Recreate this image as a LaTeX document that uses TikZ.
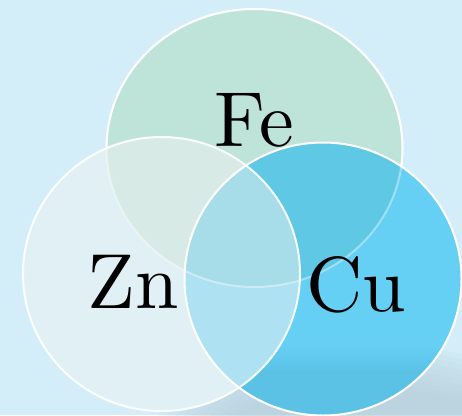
\documentclass[tikz,border=0pt]{standalone}
\definecolor{bgc}{HTML}{D3EEF9}
\definecolor{shc}{HTML}{B4CDD7}
\definecolor{fec}{HTML}{BEE3D9}
\definecolor{znc}{HTML}{E1F0F5}
\definecolor{cuc}{HTML}{66CFF4}
\definecolor{cudark}{HTML}{5BC2E6}
\definecolor{fezn}{HTML}{D8EAE5}
\definecolor{fecu}{HTML}{5EC8E5}
\definecolor{zncu}{HTML}{AEE1F2}
\definecolor{allc}{HTML}{A7DCE9}
\font\labfont=cmr10 at 78pt
\tikzset{
  lab/.style={anchor=base, inner sep=0pt, text=black, font=\labfont},
  rim/.style={draw=white, line width=2pt}
}
\begin{document}
\begin{tikzpicture}[x=1pt,y=-1pt]
\fill[bgc] (0,0) rectangle (462,415);
\useasboundingbox (0,0) rectangle (462,415);
% shadow
\begin{scope}
\clip (0,0) rectangle (462,415);
\foreach \i in {0,...,9}{
  \fill[shc, opacity=0.11] (365,432) ellipse [x radius={(210-8*\i)*1pt}, y radius={(88-5*\i)*1pt}];
}
\end{scope}
% Fe
\fill[fec] (254.5,148) ellipse [x radius=148pt, y radius=139pt];
\draw[rim] (254.5,148) ellipse [x radius=148pt, y radius=139pt];
% Zn and Cu
\fill[znc] (161.5,274) ellipse [x radius=138.5pt, y radius=137pt];
\fill[cuc] (323,279) ellipse [x radius=138.5pt, y radius=136.5pt];
\begin{scope}
\clip (323,279) ellipse [x radius=138.5pt, y radius=136.5pt];
\shade[top color=cuc, bottom color=cudark] (150,345) rectangle (470,372);
\fill[cudark] (150,372) rectangle (470,420);
\end{scope}
% Fe & Zn, Fe & Cu
\begin{scope}
\clip (254.5,148) ellipse [x radius=148pt, y radius=139pt];
\fill[fezn] (161.5,274) ellipse [x radius=138.5pt, y radius=137pt];
\fill[fecu] (323,279) ellipse [x radius=138.5pt, y radius=136.5pt];
\end{scope}
% Zn & Cu, and all three
\begin{scope}
\clip (161.5,274) ellipse [x radius=138.5pt, y radius=137pt];
\fill[zncu] (323,279) ellipse [x radius=138.5pt, y radius=136.5pt];
\begin{scope}
\clip (254.5,148) ellipse [x radius=148pt, y radius=139pt];
\fill[allc] (323,279) ellipse [x radius=138.5pt, y radius=136.5pt];
\end{scope}
\end{scope}
% rims
\draw[rim, draw opacity=0.4] (254.5,148) ellipse [x radius=148pt, y radius=139pt];
\draw[rim, draw opacity=0.9] (161.5,274) ellipse [x radius=138.5pt, y radius=137pt];
\draw[rim] (323,279) ellipse [x radius=138.5pt, y radius=136.5pt];
% labels
\node[lab] (fe) at (254.5,146) {Fe};
\node[lab] (zn) at (133,308) {Zn};
\node[lab] (cu) at (356,311) {Cu};
\end{tikzpicture}
\end{document}
